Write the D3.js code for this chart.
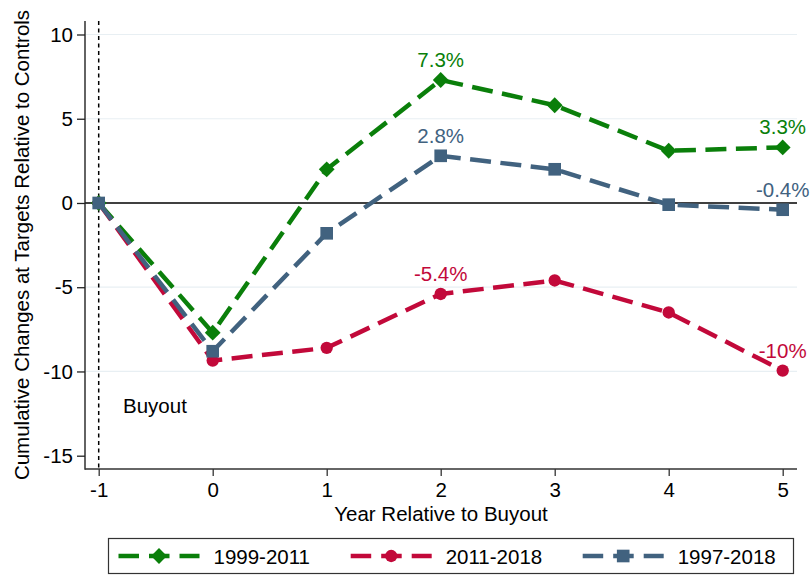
<!DOCTYPE html>
<html>
<head>
<meta charset="utf-8">
<script src="https://cdn.jsdelivr.net/npm/d3@7"></script>
<style>
  html, body { margin: 0; padding: 0; background: #fff; }
  svg { display: block; font-family: "Liberation Sans", Arial, Helvetica, sans-serif; }
</style>
</head>
<body>
<svg id="chart" width="811" height="577"></svg>
<script>
// ---- data ----
const years = [-1, 0, 1, 2, 3, 4, 5];
const series1999_2011 = [0, -7.7, 2.0, 7.3, 5.8, 3.1, 3.3];
const series2011_2018 = [0, -9.35, -8.6, -5.4, -4.6, -6.5, -9.95];
const series1997_2018 = [0, -8.8, -1.8, 2.8, 2.0, -0.1, -0.4];
const seriesNames = ["1999-2011", "2011-2018", "1997-2018"];
const yTicks = [10, 5, 0, -5, -10, -15];
const xTicks = [-1, 0, 1, 2, 3, 4, 5];
const gridValues = [10, 5, -5, -10];
// end-point labels: [series index, year, text]
const pointLabels = [
  [0, 2, "7.3%"], [0, 5, "3.3%"],
  [1, 2, "-5.4%"], [1, 5, "-10%"],
  [2, 2, "2.8%"], [2, 5, "-0.4%"]
];

const colors = ["#0a7f0a", "#c2093a", "#41627f"];
const shapes = [d3.symbolSquare, d3.symbolCircle, d3.symbolSquare];
const shapeSizes = [125, 120, 160];
const shapeRot = [45, 0, 0];
const allSeries = [series1999_2011, series2011_2018, series1997_2018];

const FS = 20.5;
const svg = d3.select("#chart");

const x = d3.scaleLinear().domain([-1, 5]).range([98.7, 782.7]);
const y = d3.scaleLinear().domain([-15, 10]).range([455.7, 34.5]);
const plotLeft = 85, plotRight = 797, plotTop = 21, plotBottom = 469;

// gridlines
svg.append("g").selectAll("line").data(gridValues).join("line")
  .attr("x1", plotLeft + 1).attr("x2", plotRight)
  .attr("y1", d => y(d)).attr("y2", d => y(d))
  .attr("stroke", "#e8eff3").attr("stroke-width", 1.2);

// zero line
svg.append("line")
  .attr("x1", plotLeft).attr("x2", plotRight)
  .attr("y1", y(0)).attr("y2", y(0))
  .attr("stroke", "#000").attr("stroke-width", 1.5);

// buyout dashed vertical line
svg.append("line")
  .attr("x1", x(-1)).attr("x2", x(-1))
  .attr("y1", plotTop).attr("y2", plotBottom)
  .attr("stroke", "#000").attr("stroke-width", 1.5)
  .attr("stroke-dasharray", "4,3.5");

svg.append("text")
  .attr("x", 123).attr("y", 413)
  .attr("font-size", FS).attr("fill", "#000")
  .text("Buyout");

// axes
const fmt = d => String(d);
const yAxis = svg.append("g")
  .attr("transform", `translate(${plotLeft},0)`)
  .call(d3.axisLeft(y).tickValues(yTicks).tickSize(8).tickPadding(4).tickFormat(fmt));
yAxis.select(".domain").remove();
yAxis.selectAll("text").attr("font-size", FS).attr("fill", "#000").attr("font-family", null);
yAxis.selectAll("line").attr("stroke", "#222").attr("stroke-width", 1.3);

const xAxis = svg.append("g")
  .attr("transform", `translate(0,${plotBottom})`)
  .call(d3.axisBottom(x).tickValues(xTicks).tickSize(7).tickPadding(6).tickFormat(fmt));
xAxis.select(".domain").remove();
xAxis.selectAll("text").attr("font-size", FS).attr("fill", "#000").attr("font-family", null);
xAxis.selectAll("line").attr("stroke", "#333").attr("stroke-width", 1.3);

svg.append("line").attr("x1", plotLeft).attr("x2", plotLeft)
  .attr("y1", plotTop).attr("y2", plotBottom + 0.7)
  .attr("stroke", "#222").attr("stroke-width", 1.4);
svg.append("line").attr("x1", plotLeft).attr("x2", plotRight)
  .attr("y1", plotBottom).attr("y2", plotBottom)
  .attr("stroke", "#333").attr("stroke-width", 1.4);

// axis titles
svg.append("text")
  .attr("x", (plotLeft + plotRight) / 2).attr("y", 520.5)
  .attr("text-anchor", "middle").attr("font-size", FS)
  .text("Year Relative to Buyout");
svg.append("text")
  .attr("transform", `translate(29,${(plotTop + plotBottom) / 2}) rotate(-90)`)
  .attr("text-anchor", "middle").attr("font-size", FS)
  .text("Cumulative Changes at Targets Relative to Controls");

// series lines and markers
const line = d3.line().x((d, i) => x(years[i])).y(d => y(d));
allSeries.forEach((vals, s) => {
  const g = svg.append("g");
  g.append("path").datum(vals)
    .attr("d", line)
    .attr("fill", "none")
    .attr("stroke", colors[s])
    .attr("stroke-width", 4.5)
    .attr("stroke-dasharray", "21,9.5");
  g.selectAll("path.m").data(vals).join("path")
    .attr("class", "m")
    .attr("transform", (d, i) => `translate(${x(years[i])},${y(d)}) rotate(${shapeRot[s]})`)
    .attr("d", d3.symbol().type(shapes[s]).size(shapeSizes[s]))
    .attr("fill", colors[s]);
});

// point labels
svg.append("g").selectAll("text").data(pointLabels).join("text")
  .attr("x", d => x(d[1]))
  .attr("y", d => y(allSeries[d[0]][years.indexOf(d[1])]) - 13)
  .attr("text-anchor", "middle")
  .attr("font-size", FS)
  .attr("fill", d => colors[d[0]])
  .text(d => d[2]);

// legend
const legendG = svg.append("g");
legendG.append("rect")
  .attr("x", 108.5).attr("y", 538.5).attr("width", 685).attr("height", 35)
  .attr("fill", "#fff").attr("stroke", "#333").attr("stroke-width", 1.2);
const legendX = [118.5, 350.7, 582.7];
const legY = 556;
seriesNames.forEach((name, s) => {
  const lx = legendX[s];
  legendG.append("line")
    .attr("x1", lx).attr("x2", lx + 81)
    .attr("y1", legY).attr("y2", legY)
    .attr("stroke", colors[s]).attr("stroke-width", 4.5)
    .attr("stroke-dasharray", "20.5,10");
  legendG.append("path")
    .attr("transform", `translate(${lx + 40.5},${legY}) rotate(${shapeRot[s]})`)
    .attr("d", d3.symbol().type(shapes[s]).size(shapeSizes[s]))
    .attr("fill", colors[s]);
  legendG.append("text")
    .attr("x", lx + 95).attr("y", legY + 7.5)
    .attr("font-size", FS).attr("fill", "#000")
    .text(name);
});
</script>
</body>
</html>
